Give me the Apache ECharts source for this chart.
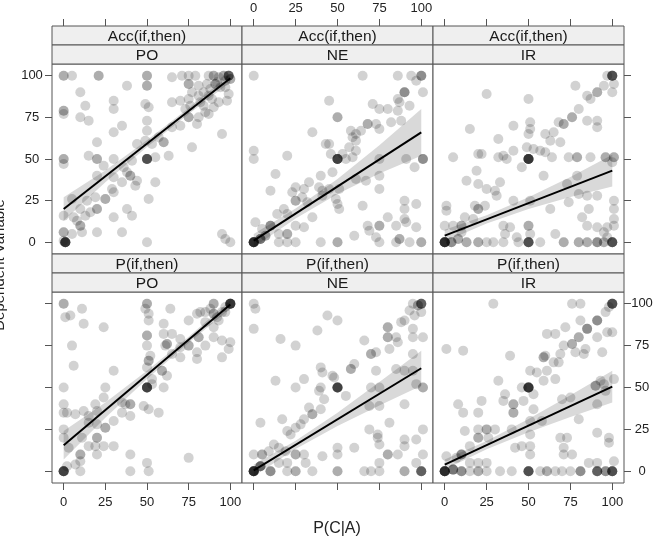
<!DOCTYPE html>
<html>
<head>
<meta charset="utf-8">
<script src="https://cdn.jsdelivr.net/npm/echarts@6/dist/echarts.min.js"></script>
<style>
  html, body { margin: 0; padding: 0; background: #fff; }
  #main { width: 658px; height: 541px; }
</style>
</head>
<body>
<div id="main"></div>
<script>
// strip labels
var measures = ['Acc(if,then)', 'P(if,then)'];
var groups = ['PO', 'NE', 'IR'];
var tickValues = [0, 25, 50, 75, 100];

// points: [P(C|A), dependent variable, copies (overplotting)]
var accPO = [[0,100,2],[5,100,1],[21,100,2],[50,100,2],[65,99,1],[71,100,1],[75,100,1],[79,100,1],[87,100,1],[90,100,2],[93,99,1],[96,100,2],[99,100,5],[100,98,2],
  [38,94,1],[50,94,2],[75,95,2],[81,94,1],[86,95,1],[92,96,1],[97,97,1],[88,92,1],[94,93,1],[84,90,1],[91,95,2],[97,93,1],
  [10,90,1],[30,85,1],[30,80,1],[13,82,1],[49,83,1],[51,81,1],[65,84,1],[70,85,1],[75,86,1],[77,90,1],[81,88,1],[87,88,1],[89,86,1],[93,84,1],[98,85,1],[99,89,1],[82,84,1],[73,80,1],[76,82,1],[84,82,1],[90,81,1],
  [0,79,2],[0,77,1],[10,75,1],[15,73,1],[50,73,1],[30,66,1],[35,70,1],[50,67,1],[65,69,1],[70,70,1],[75,75,2],[80,71,1],[81,75,1],[85,78,1],[87,77,1],[95,65,1],[77,57,1],[57,63,1],[60,60,2],[49,61,1],[53,59,1],[44,59,1],[20,60,1],
  [20,50,2],[15,52,1],[30,50,1],[41,49,1],[50,50,6],[55,51,1],[63,52,1],[0,50,2],[0,47,1],[24,46,1],[20,40,1],[30,39,1],[36,45,1],[38,42,1],[40,40,2],[44,37,1],[35,36,1],[55,36,1],[43,34,1],[30,30,1],[25,26,2],[19,27,1],[14,25,1],[29,32,1],
  [20,20,2],[16,18,1],[13,16,1],[10,20,1],[5,26,1],[0,16,1],[10,10,2],[8,13,1],[6,15,1],[30,15,1],[38,20,1],[41,16,1],[51,26,1],[0,6,2],[1,0,8],[5,5,1],[11,6,1],[20,6,1],[35,6,1],[50,0,1],[95,5,1],[97,2,1],[100,0,1],[0,1,1]];
var accNE = [[0,100,1],[65,100,1],[86,100,1],[94,100,1],[100,100,3],[97,97,1],[90,90,3],[101,90,1],[86,86,1],[87,84,1],[93,82,1],[45,85,1],[71,83,1],[75,80,1],[80,80,1],[86,79,1],[50,75,2],[68,71,2],[73,71,1],[75,68,1],[82,72,1],[88,73,1],
  [35,66,1],[58,67,1],[61,65,1],[64,67,1],[61,61,1],[59,63,1],[43,59,1],[45,59,1],[57,57,1],[46,53,1],[53,53,1],[61,55,1],[0,55,1],[0,50,1],[20,52,1],[50,50,7],[55,50,1],[59,51,1],[75,50,1],[91,50,1],[101,50,3],[96,45,1],
  [47,42,1],[13,41,1],[40,40,1],[61,38,1],[67,37,1],[75,40,1],[33,36,1],[30,32,1],[25,33,1],[10,31,1],[23,30,1],[39,33,1],[41,31,1],[45,32,1],[51,32,1],[75,32,1],[25,25,2],[29,27,1],[32,24,1],[41,28,1],[49,26,1],[50,23,1],[51,20,1],
  [35,15,1],[30,9,1],[25,10,1],[20,17,1],[18,20,1],[14,17,1],[10,10,3],[5,8,1],[1,12,1],[0,0,9],[4,2,4],[7,4,2],[15,5,1],[20,5,2],[15,0,1],[20,0,1],[25,0,1],[40,0,1],[50,0,2],[60,4,1],[65,22,1],[68,10,1],[75,10,2],[80,15,1],[85,10,1],
  [69,7,1],[73,3,1],[75,0,1],[90,25,1],[90,20,1],[90,14,1],[91,12,1],[97,23,1],[97,9,1],[87,2,2],[93,0,1],[100,0,2],[85,0,1]];
var accIR = [[100,100,6],[97,100,1],[101,95,1],[78,94,1],[95,94,1],[91,90,2],[87,86,1],[85,88,1],[100,90,1],[25,89,1],[50,86,1],[80,80,1],[76,75,2],[71,71,2],[68,72,1],[65,66,1],[60,65,1],[63,61,1],[69,60,1],[51,72,1],[51,68,1],[50,65,1],[41,70,1],[15,68,1],[85,73,1],[91,73,1],[91,69,1],[32,62,1],
  [5,51,1],[20,53,1],[22,53,1],[32,51,1],[35,52,1],[37,50,1],[41,55,1],[49,57,1],[53,56,1],[57,55,1],[60,54,1],[64,51,1],[50,50,8],[46,45,1],[74,51,1],[79,51,2],[87,51,1],[96,51,2],[101,51,2],[100,48,1],
  [19,43,1],[13,37,1],[20,35,1],[25,32,1],[30,31,1],[33,36,1],[31,28,1],[59,40,1],[73,35,1],[79,40,1],[85,28,1],[91,28,1],[80,29,1],[1,22,1],[1,19,1],[18,22,1],[20,20,2],[24,22,1],[41,25,1],[51,25,1],[63,20,1],[74,24,1],[82,15,1],[86,20,1],[101,25,1],[101,20,1],[101,14,1],
  [0,10,1],[5,10,1],[10,10,2],[12,15,1],[17,14,1],[10,6,1],[35,10,1],[39,9,1],[36,5,1],[50,10,2],[51,5,1],[66,5,1],[85,10,1],[91,9,1],[95,6,1],[97,9,1],[101,10,1],
  [0,0,9],[4,0,3],[8,2,2],[13,0,2],[20,0,2],[25,0,1],[29,0,1],[35,0,1],[43,3,1],[44,0,1],[50,0,6],[57,0,1],[71,0,2],[80,0,2],[85,0,2],[91,0,3],[95,0,2],[100,0,6],[97,3,1]];
var pPO = [[0,100,2],[1,92,1],[4,93,1],[11,97,1],[12,88,1],[24,86,1],[5,75,1],[6,63,1],[30,60,1],[50,100,2],[49,97,1],[51,94,1],[51,90,1],[64,97,1],[60,88,1],[75,90,1],[80,94,1],[82,95,1],[85,95,1],[90,100,2],[90,94,2],[95,95,1],[100,100,8],[97,98,1],[93,90,1],[90,86,1],[85,89,1],[88,97,1],[92,92,1],[97,95,1],
  [90,80,1],[95,78,1],[100,77,1],[99,73,1],[95,68,1],[85,75,1],[81,80,2],[80,71,1],[80,67,1],[75,75,2],[70,79,1],[65,82,1],[60,82,1],[50,81,2],[50,75,1],[61,75,1],[62,76,2],[65,70,1],[70,68,1],[70,74,1],[51,66,2],[52,69,1],[50,62,1],[59,60,2],[62,57,1],[60,50,1],[53,55,1],[50,50,7],[53,52,1],
  [0,50,1],[25,50,1],[24,44,1],[19,40,1],[0,40,1],[0,35,1],[2,35,1],[7,34,1],[12,36,1],[15,33,1],[20,36,1],[35,41,1],[37,40,1],[40,40,2],[35,35,1],[40,33,1],[48,39,1],[51,37,1],[57,35,1],[30,30,1],[25,26,2],[20,28,1],[15,29,1],
  [0,25,1],[0,20,1],[11,20,1],[20,20,2],[15,15,1],[19,15,1],[24,15,1],[30,15,1],[3,14,1],[10,10,2],[20,10,1],[40,10,1],[75,8,1],[10,6,1],[7,4,1],[2,3,1],[0,0,7],[10,0,1],[40,0,1],[50,5,1],[51,0,1]];
var pNE = [[0,100,1],[1,97,1],[0,85,1],[16,79,1],[25,75,1],[44,93,1],[50,90,1],[38,84,1],[95,100,1],[98,99,2],[100,100,5],[93,96,1],[96,93,1],[90,90,1],[88,89,1],[100,95,1],[80,86,2],[80,80,2],[85,80,1],[86,77,1],[95,85,1],[95,80,1],[95,70,1],[101,80,1],[66,78,1],[70,70,2],[73,71,1],[81,73,1],
  [58,61,2],[60,64,1],[40,62,1],[41,59,1],[47,57,1],[30,55,1],[13,54,1],[25,50,1],[40,50,1],[50,50,7],[48,56,1],[42,43,1],[39,48,1],[55,45,1],[70,50,1],[75,50,1],[73,60,1],[85,61,1],[90,60,1],[95,60,1],[97,52,1],[101,50,2],
  [90,40,1],[81,29,1],[75,39,1],[69,39,1],[40,37,1],[35,34,2],[30,31,1],[25,26,1],[20,24,1],[17,31,1],[4,29,1],[22,22,1],[28,28,1],[33,38,1],[12,16,1],[69,25,1],[74,22,1],[75,16,1],[74,20,1],[90,19,1],[90,15,1],[97,19,1],[101,25,1],
  [80,10,2],[86,10,1],[101,10,1],[60,14,1],[50,14,1],[50,10,1],[41,9,1],[30,10,1],[25,10,2],[19,12,1],[15,14,1],[9,12,1],[5,10,2],[0,10,1],
  [0,0,9],[4,3,4],[10,0,3],[15,5,1],[20,5,1],[20,0,1],[25,0,2],[31,5,1],[35,0,1],[50,0,2],[66,0,1],[70,0,1],[75,5,1],[75,0,1],[90,0,2],[97,5,1],[100,0,5]];
var pIR = [[29,100,1],[76,100,1],[81,100,1],[100,100,6],[98,98,1],[96,95,1],[91,90,3],[85,85,3],[81,90,1],[72,86,1],[61,82,1],[66,82,1],[80,80,2],[76,76,2],[71,75,1],[78,71,1],[84,73,1],[83,70,1],[91,80,1],[94,71,1],[97,83,1],[100,83,1],
  [1,73,1],[11,72,1],[39,69,1],[60,69,1],[65,65,1],[68,65,1],[69,70,1],[59,68,2],[51,60,1],[55,59,1],[61,60,1],[59,54,1],[66,55,1],[32,54,1],[46,50,1],[50,50,8],[53,46,1],[36,46,1],[35,42,1],[22,42,1],[41,40,2],[41,35,2],[47,42,1],[53,37,1],
  [70,43,1],[75,44,1],[80,31,1],[90,51,2],[93,54,1],[95,52,1],[101,55,1],[96,48,1],[91,40,1],[8,40,1],[11,35,1],[20,35,1],[20,25,1],[25,25,2],[20,20,2],[26,20,1],[30,25,1],[40,25,1],[51,30,1],[51,22,1],[51,15,1],[51,10,1],[46,15,1],[42,14,1],
  [58,30,1],[69,20,1],[73,20,1],[71,14,1],[71,10,1],[76,10,1],[91,23,1],[98,20,1],[98,17,1],[12,24,1],[15,15,1],[10,10,3],[7,8,1],[1,9,1],[15,5,1],[20,5,1],[25,5,1],[86,5,1],[91,5,1],[101,6,1],
  [0,0,9],[5,1,4],[10,0,3],[15,0,1],[20,0,2],[25,0,1],[33,0,1],[40,0,1],[50,0,6],[57,0,1],[61,0,2],[66,0,1],[70,0,1],[75,0,1],[81,0,3],[91,0,5],[96,0,3],[100,0,6]];

var panelPoints = [accPO, accNE, accIR, pPO, pNE, pIR];

// fitted line: value at x=0 and x=100
var fitAt0 = [20, 1, 4, 15.5, 0.5, 4];
var fitAt100 = [98.5, 66, 43, 99.5, 61.5, 50.5];
// confidence band half-width at these x
var bandX = [0, 25, 50, 75, 100];
var bandHalf = [
  [7, 3.5, 2, 1.8, 2.5],
  [4, 3, 4.5, 8.5, 14],
  [3.5, 2.5, 3.5, 6, 9.5],
  [8.5, 4.5, 2.5, 1.8, 2.5],
  [3.5, 2.5, 4, 7, 10.5],
  [3, 2.5, 4, 6.5, 9.5]
];

var myChart = echarts.init(document.getElementById('main'), null, { renderer: 'canvas' });

var colLeft = [52, 242, 433];
var colWidth = [190, 191, 191];
var rowTop = [64, 292];
var rowHeight = [190, 191];
var stripH = 19;
var frame = '#555';
var font = 'Liberation Sans, Arial, sans-serif';

var grids = [], xAxes = [], yAxes = [], series = [], graphics = [];

function bandRenderer(k) {
  return function (params, api) {
    var pts = [], i, fit;
    for (i = 0; i < bandX.length; i++) {
      fit = fitAt0[k] + (fitAt100[k] - fitAt0[k]) * bandX[i] / 100;
      pts.push(api.coord([bandX[i], fit + bandHalf[k][i]]));
    }
    for (i = bandX.length - 1; i >= 0; i--) {
      fit = fitAt0[k] + (fitAt100[k] - fitAt0[k]) * bandX[i] / 100;
      pts.push(api.coord([bandX[i], fit - bandHalf[k][i]]));
    }
    return { type: 'polygon', shape: { points: pts }, style: { fill: '#d9d9d9' } };
  };
}

for (var r = 0; r < 2; r++) {
  for (var c = 0; c < 3; c++) {
    var k = r * 3 + c;
    grids.push({
      left: colLeft[c], top: rowTop[r], width: colWidth[c], height: rowHeight[r],
      show: true, borderColor: frame, borderWidth: 1, backgroundColor: '#fff'
    });
    var xLabel = (r === 0 && c === 1) || (r === 1 && c !== 1);
    xAxes.push({
      type: 'value', gridIndex: k, min: -7, max: 107,
      position: r === 0 ? 'top' : 'bottom',
      offset: r === 0 ? 2 * stripH : 0,
      splitLine: { show: false },
      axisLine: { show: false, onZero: false },
      axisTick: { show: true, length: 7, customValues: tickValues, lineStyle: { color: frame } },
      axisLabel: { show: xLabel, customValues: tickValues, fontSize: 13, color: '#222', fontFamily: font, margin: r === 0 ? 11 : 13 }
    });
    var yLabel = (c === 0 && r === 0) || (c === 2 && r === 1);
    yAxes.push({
      type: 'value', gridIndex: k, min: -7, max: 107,
      show: c !== 1,
      position: c === 2 ? 'right' : 'left',
      splitLine: { show: false },
      axisLine: { show: false, onZero: false },
      axisTick: { show: true, length: 7, customValues: tickValues, lineStyle: { color: frame } },
      axisLabel: { show: yLabel, customValues: tickValues, fontSize: 13, color: '#222', fontFamily: font,
        align: 'center', margin: c === 2 ? 18 : 20 }
    });

    // confidence band
    series.push({
      type: 'custom', xAxisIndex: k, yAxisIndex: k, z: 1, silent: true, clip: true,
      data: [[0, 0]],
      renderItem: bandRenderer(k)
    });

    // points
    var pts = [];
    panelPoints[k].forEach(function (p) {
      for (var n = 0; n < p[2]; n++) pts.push([p[0], p[1]]);
    });
    series.push({
      type: 'scatter', xAxisIndex: k, yAxisIndex: k, z: 2, silent: true,
      symbolSize: 10, data: pts,
      itemStyle: { color: 'rgba(0,0,0,0.22)' }
    });

    // fitted line
    series.push({
      type: 'line', xAxisIndex: k, yAxisIndex: k, z: 3, silent: true,
      symbol: 'none', data: [[0, fitAt0[k]], [100, fitAt100[k]]],
      lineStyle: { color: '#000', width: 2 }
    });

    // strips
    var labels = [measures[r], groups[c]];
    for (var s = 0; s < 2; s++) {
      var stripTop = rowTop[r] - 2 * stripH + s * stripH;
      graphics.push({
        type: 'rect', shape: { x: colLeft[c], y: stripTop, width: colWidth[c], height: stripH },
        style: { fill: '#efefef', stroke: frame, lineWidth: 1 }, silent: true
      });
      graphics.push({
        type: 'text', x: colLeft[c] + colWidth[c] / 2, y: stripTop + stripH / 2 + 1,
        style: { text: labels[s], fontSize: 15.5, fontFamily: font, fill: '#1a1a1a', align: 'center', verticalAlign: 'middle' },
        silent: true
      });
    }
  }
}

graphics.push({
  type: 'text', x: 337, y: 529,
  style: { text: 'P(C|A)', fontSize: 16, fontFamily: font, fill: '#222', align: 'center', verticalAlign: 'middle' }
});
graphics.push({
  type: 'text', x: 0, y: 265, rotation: Math.PI / 2,
  style: { text: 'Dependent Variable', fontSize: 15, fontFamily: font, fill: '#222', align: 'center', verticalAlign: 'middle' }
});

var option = {
  animation: false,
  grid: grids,
  xAxis: xAxes,
  yAxis: yAxes,
  series: series,
  graphic: graphics
};

myChart.setOption(option);
</script>
</body>
</html>
